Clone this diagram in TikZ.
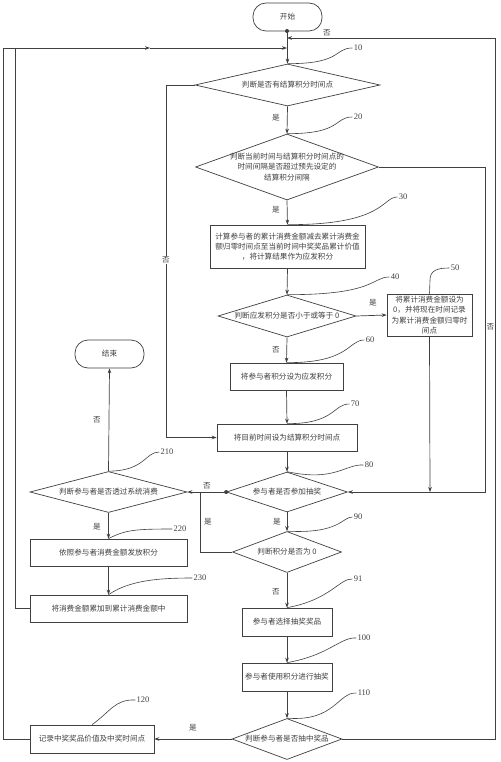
\documentclass[tikz,border=0pt]{standalone}
\usepackage{fontspec}
\setmainfont{Liberation Serif}
\newfontfamily\cjk{Noto Sans CJK SC}
\usetikzlibrary{shapes.geometric,arrows.meta}
\newcommand\txtf{\cjk\fontsize{7.6}{10.3}\selectfont}
\newcommand\numf{\rmfamily\fontsize{8.5}{9}\selectfont}
\begin{document}
\begin{tikzpicture}[x=1pt,y=-1pt,line width=0.7pt,color=black!75,
  box/.style={draw,rectangle,inner sep=1pt,align=center,font=\txtf},
  dia/.style={draw,diamond,inner sep=0pt},
  term/.style={draw,rectangle,rounded corners=13pt,minimum width=69pt,minimum height=28pt,font=\txtf},
  num/.style={font=\numf,inner sep=1pt},
  lab/.style={font=\txtf,inner sep=1pt,align=center},
  arr/.style={-{Stealth[length=5pt,width=3.6pt]}},
  lead/.style={line width=0.6pt},
  dot/.style={circle,fill,inner sep=0pt,minimum size=4pt}]
\fill[white] (0,0) rectangle (500,762);
\useasboundingbox (0,0) rectangle (500,762);

% main column
\node[term] (start) at (287.5,17) {开始};
\node[dia,minimum width=185pt,minimum height=42pt,label={[lab]center:判断是否有结算积分时间点}] (d10) at (287.5,85) {};
\node[dia,minimum width=183pt,minimum height=66pt,label={[lab]center:{判断当前时间与结算积分时间点的\\时间间隔是否超过预先设定的\\结算积分间隔}}] (d20) at (287,167) {};
\node[box,minimum width=155pt,minimum height=43pt] (b30) at (287.5,246.5) {计算参与者的累计消费金额减去累计消费金\\额归零时间点至当前时间中奖奖品累计价值\\，将计算结果作为应发积分};
\node[dia,minimum width=138pt,minimum height=42pt,label={[lab]center:判断应发积分是否小于或等于 0}] (d40) at (287,316) {};
\node[box,minimum width=85pt,minimum height=42pt] (b50) at (429.5,315) {将累计消费金额设为\\0，并将现在时间记录\\为累计消费金额归零时\\间点};
\node[box,minimum width=113pt,minimum height=27pt] (b60) at (286.5,376.5) {将参与者积分设为应发积分};
\node[box,minimum width=140pt,minimum height=27pt] (b70) at (287,437.5) {将目前时间设为结算积分时间点};
\node[dia,minimum width=121pt,minimum height=40pt,label={[lab]center:参与者是否参加抽奖}] (d80) at (287,492) {};
\node[dia,minimum width=109pt,minimum height=41pt,label={[lab]center:判断积分是否为 0}] (d90) at (287,552) {};
\node[box,minimum width=90pt,minimum height=28pt] (b91) at (287,622) {参与者选择抽奖奖品};
\node[box,minimum width=90pt,minimum height=28pt] (b100) at (287,677) {参与者使用积分进行抽奖};
\node[dia,minimum width=110pt,minimum height=41pt,label={[lab]center:判断参与者是否抽中奖品}] (d110) at (287,739) {};
\node[box,minimum width=124pt,minimum height=28pt] (b120) at (92,739) {记录中奖奖品价值及中奖时间点};

% left column
\node[term] (end) at (109.5,354) {结束};
\node[dia,minimum width=157pt,minimum height=41pt,label={[lab]center:判断参与者是否透过系统消费}] (d210) at (108.5,492) {};
\node[box,minimum width=157pt,minimum height=27pt] (b220) at (108.5,552.5) {依照参与者消费金额发放积分};
\node[box,minimum width=157pt,minimum height=27pt] (b230) at (108.5,608.5) {将消费金额累加到累计消费金额中};

% number labels
\node[num] (n10) at (358,48) {10};
\node[num] (n20) at (358,117) {20};
\node[num] (n30) at (403,197) {30};
\node[num] (n40) at (395,277) {40};
\node[num] (n50) at (455,268) {50};
\node[num] (n60) at (370,340) {60};
\node[num] (n70) at (355,404) {70};
\node[num] (n80) at (369,465) {80};
\node[num] (n90) at (358,517) {90};
\node[num] (n91) at (358,579) {91};
\node[num] (n100) at (364,638) {100};
\node[num] (n110) at (364,693) {110};
\node[num] (n120) at (143,700) {120};
\node[num] (n210) at (167,452) {210};
\node[num] (n220) at (180,529) {220};
\node[num] (n230) at (200,578) {230};

% coordinates
\coordinate (jdot) at (287,31);
\coordinate (j1) at (287,48);
\coordinate (j2) at (287,38);
\coordinate (cL1) at (3,48);
\coordinate (cL2) at (15,48);
\coordinate (cMid) at (150,48);
\coordinate (cR) at (495,38);
\coordinate (cR2) at (485,492);
\coordinate (cN10) at (166,437.5);
\coordinate (c50) at (430,492);
\coordinate (c90) at (200,492);
\node[dot] (dot1) at (jdot) {};
\node[dot] (dot2) at (d80.west) {};

% connectors
\draw[arr] (start.south) -- (d10.north);
\draw (b120.west) -| (cL1);
\draw[arr] (cL1) -- (cMid);
\draw[arr] (cMid) -- (j1);
\draw (b230.west) -| (cL2);
\draw[arr] (d110.east) -| (cR) -- (j2);
\node[lab] (l1) at (327,33) {否};
\draw[arr] (d10.west) -| (cN10) -- (b70.west);
\node[lab,fill=white] (l2) at (166,260) {否};
\draw[arr] (d10.south) -- (d20.north);
\node[lab] (l3) at (276,118) {是};
\draw[arr] (d20.east) -| (cR2) -- (d80.east);
\node[lab] (l4) at (490.5,327) {否};
\draw[arr] (d20.south) -- (b30.north);
\node[lab] (l5) at (276,210) {是};
\draw[arr] (b30.south) -- (d40.north);
\draw[arr] (d40.east) -- (b50.west);
\node[lab] (l6) at (373,303) {是};
\draw[arr] (b50.south) -- (c50);
\draw[arr] (d40.south) -- (b60.north);
\node[lab] (l7) at (276,350) {否};
\draw[arr] (b60.south) -- (b70.north);
\draw[arr] (b70.south) -- (d80.north);
\draw[arr] (d80.west) -- (d210.east);
\node[lab] (l8) at (207,486) {否};
\draw (d90.west) -| (c90);
\node[lab] (l9) at (208,522) {是};
\draw[arr] (d80.south) -- (d90.north);
\node[lab] (l10) at (277,522) {是};
\draw[arr] (d90.south) -- (b91.north);
\node[lab] (l11) at (276,592) {否};
\draw[arr] (b91.south) -- (b100.north);
\draw[arr] (b100.south) -- (d110.north);
\draw[arr] (d110.west) -- (b120.east);
\node[lab] (l12) at (193,728) {是};
\draw[arr] (d210.north) -- (end.south);
\node[lab] (l13) at (97,420) {否};
\draw[arr] (d210.south) -- (b220.north);
\node[lab] (l14) at (97,527) {是};
\draw[arr] (b220.south) -- (b230.north);

% leaders
\draw[lead] (d10.north) .. controls (342,64) and (334,48) .. (n10.west);
\draw[lead] (d20.north) .. controls (342,134) and (334,117) .. (n20.west);
\draw[lead] (b30.north) .. controls (385,225) and (382,197) .. (n30.west);
\draw[lead] (d40.north) .. controls (375,295) and (372,277) .. (n40.west);
\draw[lead] (b50.north) -- (430,280) .. controls (430,270) and (438,268) .. (n50.west);
\draw[lead] (b60.north) .. controls (350,363) and (348,340) .. (n60.west);
\draw[lead] (b70.north) .. controls (335,424) and (333,404) .. (n70.west);
\draw[lead] (d80.north) .. controls (335,482) and (345,464) .. (n80.west);
\draw[lead] (d90.north) .. controls (340,534) and (342,517) .. (n90.west);
\draw[lead] (b91.north) .. controls (330,600) and (340,578) .. (n91.west);
\draw[lead] (b100.north) .. controls (330,655) and (340,637) .. (n100.west);
\draw[lead] (d110.north) .. controls (335,722) and (338,692) .. (n110.west);
\draw[lead] (b120.north) .. controls (110,712) and (115,699) .. (n120.west);
\draw[lead] (d210.north) .. controls (145,471) and (145,452) .. (n210.west);
\draw[lead] (b220.north) .. controls (125,530) and (135,529) .. (n220.west);
\draw[lead] (b230.north) .. controls (130,580) and (160,578) .. (n230.west);
\end{tikzpicture}
\end{document}
